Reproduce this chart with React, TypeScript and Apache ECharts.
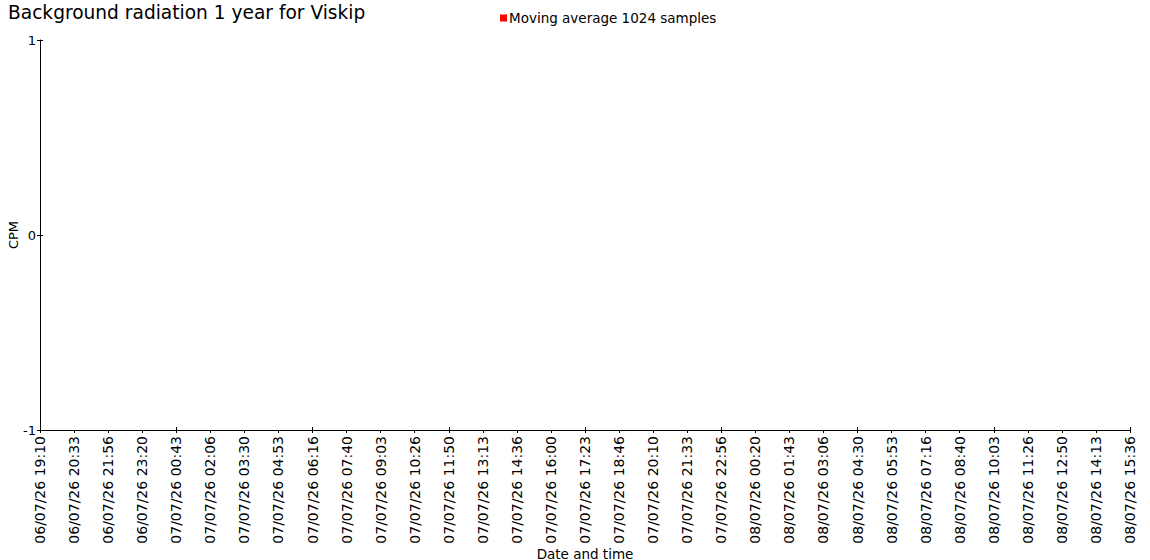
import * as echarts from "echarts";
import React, { useEffect, useRef } from "react";

const titleText = "Background radiation 1 year for Viskip";
const seriesName = "Moving average 1024 samples";

const categories = [
  "06/07/26 19:10", "06/07/26 20:33", "06/07/26 21:56", "06/07/26 23:20",
  "07/07/26 00:43", "07/07/26 02:06", "07/07/26 03:30", "07/07/26 04:53",
  "07/07/26 06:16", "07/07/26 07:40", "07/07/26 09:03", "07/07/26 10:26",
  "07/07/26 11:50", "07/07/26 13:13", "07/07/26 14:36", "07/07/26 16:00",
  "07/07/26 17:23", "07/07/26 18:46", "07/07/26 20:10", "07/07/26 21:33",
  "07/07/26 22:56", "08/07/26 00:20", "08/07/26 01:43", "08/07/26 03:06",
  "08/07/26 04:30", "08/07/26 05:53", "08/07/26 07:16", "08/07/26 08:40",
  "08/07/26 10:03", "08/07/26 11:26", "08/07/26 12:50", "08/07/26 14:13",
  "08/07/26 15:36",
];

// no readings in this period, the line is empty
const values: (number | null)[] = categories.map(() => null);

const yMin = -1;
const yMax = 1;
const yInterval = 1;

const font = "DejaVu Sans";

const baseX = {
  type: "category" as const,
  data: categories,
  boundaryGap: false,
  position: "bottom" as const,
};

const baseY = {
  type: "value" as const,
  min: yMin,
  max: yMax,
  interval: yInterval,
  position: "left" as const,
  splitLine: { show: false },
};

const option = {
  animation: false,
  textStyle: { fontFamily: font },
  title: {
    text: titleText,
    left: 3,
    top: -2,
    textStyle: { fontFamily: font, fontSize: 18.6, fontWeight: "normal", color: "#000" },
  },
  legend: {
    left: 495,
    top: 6,
    itemWidth: 7,
    itemHeight: 7,
    itemGap: 4,
    icon: "rect",
    textStyle: { fontFamily: font, fontSize: 13.5, color: "#000", padding: [0, 0, 0, -3] },
    data: [seriesName],
  },
  grid: { left: 40, right: 20, top: 40, bottom: 130, outerBoundsMode: "none" },
  xAxis: [
    {
      ...baseX,
      name: "Date and time",
      nameLocation: "middle",
      nameGap: 117,
      nameMoveOverlap: false,
      nameTextStyle: { fontFamily: font, fontSize: 13.5, color: "#000" },
      axisLine: { show: true, onZero: false, lineStyle: { color: "#000", width: 1 } },
      axisTick: { show: true, length: 3, alignWithLabel: true, lineStyle: { color: "#000" } },
      axisLabel: {
        rotate: 90,
        interval: 0,
        margin: 6,
        fontFamily: font,
        fontSize: 14,
        color: "#000",
      },
    },
    {
      ...baseX,
      axisLine: { show: false, onZero: false },
      axisTick: { show: true, inside: true, length: 3, lineStyle: { color: "#000" } },
      axisLabel: { show: false },
    },
  ],
  yAxis: [
    {
      ...baseY,
      name: "CPM",
      nameLocation: "middle",
      nameGap: 20,
      nameMoveOverlap: false,
      nameTextStyle: { fontFamily: font, fontSize: 13, color: "#000" },
      axisLine: { show: true, onZero: false, lineStyle: { color: "#000", width: 1 } },
      axisTick: { show: true, length: 3, lineStyle: { color: "#000" } },
      axisLabel: { margin: 4, fontFamily: font, fontSize: 13, color: "#000" },
    },
    {
      ...baseY,
      axisLine: { show: false, onZero: false },
      axisTick: { show: true, inside: true, length: 3, lineStyle: { color: "#000" } },
      axisLabel: { show: false },
    },
  ],
  series: [
    {
      name: seriesName,
      type: "line",
      data: values,
      showSymbol: false,
      itemStyle: { color: "#ff0000" },
      lineStyle: { color: "#ff0000", width: 1 },
    },
  ],
};

const App: React.FC = () => {
  const chartRef = useRef<HTMLDivElement>(null);

  useEffect(() => {
    document.body.style.margin = "0";
    if (!chartRef.current) return;
    const chart = echarts.init(chartRef.current, null, { renderer: "svg" });
    chart.setOption(option);
    return () => chart.dispose();
  }, []);

  return <div ref={chartRef} style={{ width: 1150, height: 560 }} />;
};

export default App;
